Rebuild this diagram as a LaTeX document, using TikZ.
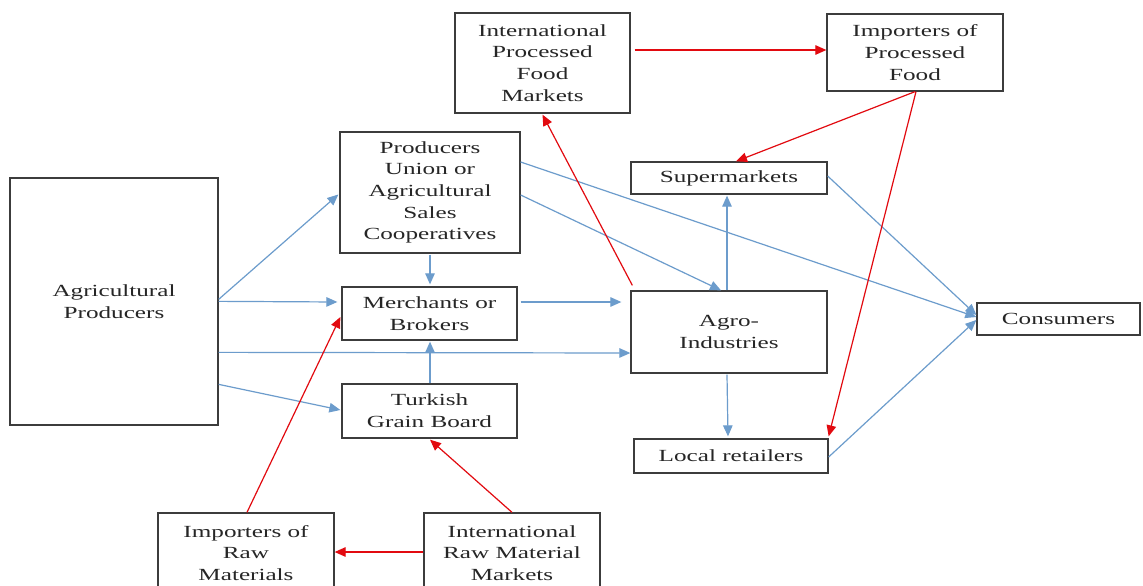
\documentclass[tikz,border=0pt]{standalone}
\usepackage{fontspec}
\setmainfont{Liberation Serif}[FakeStretch=1.48]
\usetikzlibrary{arrows.meta,calc}
\definecolor{fblue}{RGB}{108,156,204}
\definecolor{fred}{RGB}{226,10,16}
\definecolor{fbox}{RGB}{60,60,60}
\begin{document}
\begin{tikzpicture}[x=1pt,y=-1pt,
  box/.style={draw=fbox,line width=1.3pt,inner sep=0pt,align=center,text=black!85,
    font=\fontsize{17}{21.7}\selectfont},
  barrow/.style={draw=fblue,line width=1.2pt,-{Triangle[length=11pt,width=9.5pt]}},
  rarrow/.style={draw=fred,line width=1.2pt,-{Triangle[length=11pt,width=9.5pt]}}]
\useasboundingbox (0,0) rectangle (1143,586);
\clip (0,0) rectangle (1143,586);
\fill[white] (0,0) rectangle (1143,586);
% nodes
\node[box,minimum width=208pt,minimum height=247pt] (ap) at (114,301.5) {Agricultural\\Producers};
\node[box,minimum width=180pt,minimum height=121pt] (pu) at (430,192.5) {Producers\\Union or\\Agricultural\\Sales\\Cooperatives};
\node[box,minimum width=175pt,minimum height=53pt] (mb) at (429.5,313.5) {Merchants or\\Brokers};
\node[box,minimum width=175pt,minimum height=54pt] (tgb) at (429.5,411) {Turkish\\Grain Board};
\node[box,minimum width=175pt,minimum height=100pt] (ipf) at (542.5,63) {International\\Processed\\Food\\Markets};
\node[box,minimum width=176pt,minimum height=77pt] (impf) at (915,52.5) {Importers of\\Processed\\Food};
\node[box,minimum width=196pt,minimum height=32pt] (sm) at (729,178) {Supermarkets};
\node[box,minimum width=196pt,minimum height=82pt] (agro) at (729,332) {Agro-\\Industries};
\node[box,minimum width=163pt,minimum height=32pt] (cons) at (1058.5,319) {Consumers};
\node[box,minimum width=194pt,minimum height=34pt] (lr) at (731,456) {Local retailers};
\node[box,minimum width=176pt,minimum height=80pt] (imr) at (246,553) {Importers of\\Raw\\Materials};
\node[box,minimum width=176pt,minimum height=80pt] (irm) at (512,553) {International\\Raw Material\\Markets};
% blue arrows
\draw[barrow] ($(ap.north east)+(0,122)$) -- ($(pu.west)+(-1,2)$);
\draw[barrow] ($(ap.north east)+(0,124)$) -- ($(mb.west)+(-4,-11.5)$);
\draw[barrow] ($(ap.north east)+(0,175)$) -- ($(agro.west)+(0,21)$);
\draw[barrow] ($(ap.north east)+(0,207)$) -- ($(tgb.west)+(-1,-1)$);
\draw[barrow] ($(pu.south)+(0,1)$) -- ($(mb.north)+(0.5,-2)$);
\draw[barrow] ($(tgb.north)+(0.5,0)$) -- ($(mb.south)+(0.5,1)$);
\draw[barrow] ($(mb.east)+(3,-11.5)$) -- ($(agro.west)+(-9,-30)$);
\draw[barrow] ($(pu.east)+(0,2.5)$) -- ($(agro.north)+(-8,0)$);
\draw[barrow] ($(pu.east)+(0,-30.5)$) -- ($(cons.west)+(0,-2)$);
\draw[barrow] ($(agro.north)+(-2,0)$) -- ($(sm.south)+(-2,1)$);
\draw[barrow] ($(sm.east)+(0,-2)$) -- ($(cons.west)+(0,-4)$);
\draw[barrow] ($(agro.south)+(-2,1)$) -- ($(lr.north)+(-3,-2)$);
\draw[barrow] ($(lr.east)+(0,1)$) -- ($(cons.west)+(0,1)$);
% red arrows
\draw[rarrow] ($(ipf.east)+(4,-13)$) -- ($(impf.west)+(0,-2.5)$);
\draw[rarrow] (impf.south) -- ($(sm.north)+(7,0)$);
\draw[rarrow] ($(impf.south)+(1,0)$) -- ($(lr.north east)+(0,-2)$);
\draw[rarrow] ($(agro.north west)+(2,-5)$) -- ($(ipf.south)+(0,1)$);
\draw[rarrow] (irm.north) -- ($(tgb.south)+(0.5,1)$);
\draw[rarrow] ($(irm.west)+(0,-1)$) -- ($(imr.east)+(0,-1)$);
\draw[rarrow] ($(imr.north)+(1,0)$) -- ($(mb.west)+(-1,3.5)$);
\end{tikzpicture}
\end{document}
